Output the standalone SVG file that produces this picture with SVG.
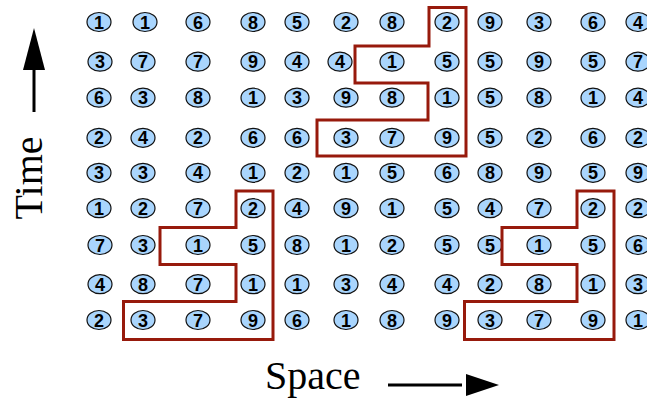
<svg xmlns="http://www.w3.org/2000/svg" width="647" height="407" viewBox="0 0 647 407">
<style>
.c{fill:#a9d5fd;stroke:#111;stroke-width:1.2}
.t{font-family:"Liberation Sans",Arial,sans-serif;font-weight:bold;font-size:18px;text-anchor:middle;fill:#000}
.r{fill:none;stroke:#971a0c;stroke-width:3}
.ax{stroke:#000;stroke-width:3;fill:none}
.lbl{font-family:"Liberation Serif","Times New Roman",serif;font-size:40px;fill:#000}
</style>
<rect width="647" height="407" fill="#fff"/>
<g id="nodes">
<g id="r1"><g id="n1-1" transform="translate(99,22)"><ellipse class="c" rx="12" ry="9.5"/><text class="t" y="6.5">1</text></g><g id="n1-2" transform="translate(145,22)"><ellipse class="c" rx="12" ry="9.5"/><text class="t" y="6.5">1</text></g><g id="n1-3" transform="translate(198,22)"><ellipse class="c" rx="12" ry="9.5"/><text class="t" y="6.5">6</text></g><g id="n1-4" transform="translate(253,22)"><ellipse class="c" rx="12" ry="9.5"/><text class="t" y="6.5">8</text></g><g id="n1-5" transform="translate(297,22)"><ellipse class="c" rx="12" ry="9.5"/><text class="t" y="6.5">5</text></g><g id="n1-6" transform="translate(346,22)"><ellipse class="c" rx="12" ry="9.5"/><text class="t" y="6.5">2</text></g><g id="n1-7" transform="translate(392,22)"><ellipse class="c" rx="12" ry="9.5"/><text class="t" y="6.5">8</text></g><g id="n1-8" transform="translate(447,22)"><ellipse class="c" rx="12" ry="9.5"/><text class="t" y="6.5">2</text></g><g id="n1-9" transform="translate(490,22)"><ellipse class="c" rx="12" ry="9.5"/><text class="t" y="6.5">9</text></g><g id="n1-10" transform="translate(539,22)"><ellipse class="c" rx="12" ry="9.5"/><text class="t" y="6.5">3</text></g><g id="n1-11" transform="translate(593,22)"><ellipse class="c" rx="12" ry="9.5"/><text class="t" y="6.5">6</text></g><g id="n1-12" transform="translate(638,22)"><ellipse class="c" rx="12" ry="9.5"/><text class="t" y="6.5">4</text></g></g>
<g id="r2"><g id="n2-1" transform="translate(100,61.7)"><ellipse class="c" rx="12" ry="9.5"/><text class="t" y="6.5">3</text></g><g id="n2-2" transform="translate(143,61.7)"><ellipse class="c" rx="12" ry="9.5"/><text class="t" y="6.5">7</text></g><g id="n2-3" transform="translate(198,61.7)"><ellipse class="c" rx="12" ry="9.5"/><text class="t" y="6.5">7</text></g><g id="n2-4" transform="translate(253,61.7)"><ellipse class="c" rx="12" ry="9.5"/><text class="t" y="6.5">9</text></g><g id="n2-5" transform="translate(297,61.7)"><ellipse class="c" rx="12" ry="9.5"/><text class="t" y="6.5">4</text></g><g id="n2-6" transform="translate(340,61.7)"><ellipse class="c" rx="12" ry="9.5"/><text class="t" y="6.5">4</text></g><g id="n2-7" transform="translate(392,61.7)"><ellipse class="c" rx="12" ry="9.5"/><text class="t" y="6.5">1</text></g><g id="n2-8" transform="translate(447,61.7)"><ellipse class="c" rx="12" ry="9.5"/><text class="t" y="6.5">5</text></g><g id="n2-9" transform="translate(490,61.7)"><ellipse class="c" rx="12" ry="9.5"/><text class="t" y="6.5">5</text></g><g id="n2-10" transform="translate(539,61.7)"><ellipse class="c" rx="12" ry="9.5"/><text class="t" y="6.5">9</text></g><g id="n2-11" transform="translate(593,61.7)"><ellipse class="c" rx="12" ry="9.5"/><text class="t" y="6.5">5</text></g><g id="n2-12" transform="translate(638,61.7)"><ellipse class="c" rx="12" ry="9.5"/><text class="t" y="6.5">7</text></g></g>
<g id="r3"><g id="n3-1" transform="translate(99,97.7)"><ellipse class="c" rx="12" ry="9.5"/><text class="t" y="6.5">6</text></g><g id="n3-2" transform="translate(143,97.7)"><ellipse class="c" rx="12" ry="9.5"/><text class="t" y="6.5">3</text></g><g id="n3-3" transform="translate(198,97.7)"><ellipse class="c" rx="12" ry="9.5"/><text class="t" y="6.5">8</text></g><g id="n3-4" transform="translate(253,97.7)"><ellipse class="c" rx="12" ry="9.5"/><text class="t" y="6.5">1</text></g><g id="n3-5" transform="translate(297,97.7)"><ellipse class="c" rx="12" ry="9.5"/><text class="t" y="6.5">3</text></g><g id="n3-6" transform="translate(346,97.7)"><ellipse class="c" rx="12" ry="9.5"/><text class="t" y="6.5">9</text></g><g id="n3-7" transform="translate(392,97.7)"><ellipse class="c" rx="12" ry="9.5"/><text class="t" y="6.5">8</text></g><g id="n3-8" transform="translate(447,97.7)"><ellipse class="c" rx="12" ry="9.5"/><text class="t" y="6.5">1</text></g><g id="n3-9" transform="translate(490,97.7)"><ellipse class="c" rx="12" ry="9.5"/><text class="t" y="6.5">5</text></g><g id="n3-10" transform="translate(539,97.7)"><ellipse class="c" rx="12" ry="9.5"/><text class="t" y="6.5">8</text></g><g id="n3-11" transform="translate(593,97.7)"><ellipse class="c" rx="12" ry="9.5"/><text class="t" y="6.5">1</text></g><g id="n3-12" transform="translate(638,97.7)"><ellipse class="c" rx="12" ry="9.5"/><text class="t" y="6.5">4</text></g></g>
<g id="r4"><g id="n4-1" transform="translate(99,137.8)"><ellipse class="c" rx="12" ry="9.5"/><text class="t" y="6.5">2</text></g><g id="n4-2" transform="translate(143,137.8)"><ellipse class="c" rx="12" ry="9.5"/><text class="t" y="6.5">4</text></g><g id="n4-3" transform="translate(198,137.8)"><ellipse class="c" rx="12" ry="9.5"/><text class="t" y="6.5">2</text></g><g id="n4-4" transform="translate(253,137.8)"><ellipse class="c" rx="12" ry="9.5"/><text class="t" y="6.5">6</text></g><g id="n4-5" transform="translate(297,137.8)"><ellipse class="c" rx="12" ry="9.5"/><text class="t" y="6.5">6</text></g><g id="n4-6" transform="translate(346,137.8)"><ellipse class="c" rx="12" ry="9.5"/><text class="t" y="6.5">3</text></g><g id="n4-7" transform="translate(392,137.8)"><ellipse class="c" rx="12" ry="9.5"/><text class="t" y="6.5">7</text></g><g id="n4-8" transform="translate(447,137.8)"><ellipse class="c" rx="12" ry="9.5"/><text class="t" y="6.5">9</text></g><g id="n4-9" transform="translate(490,137.8)"><ellipse class="c" rx="12" ry="9.5"/><text class="t" y="6.5">5</text></g><g id="n4-10" transform="translate(539,137.8)"><ellipse class="c" rx="12" ry="9.5"/><text class="t" y="6.5">2</text></g><g id="n4-11" transform="translate(593,137.8)"><ellipse class="c" rx="12" ry="9.5"/><text class="t" y="6.5">6</text></g><g id="n4-12" transform="translate(638,137.8)"><ellipse class="c" rx="12" ry="9.5"/><text class="t" y="6.5">2</text></g></g>
<g id="r5"><g id="n5-1" transform="translate(99,172.8)"><ellipse class="c" rx="12" ry="9.5"/><text class="t" y="6.5">3</text></g><g id="n5-2" transform="translate(143,172.8)"><ellipse class="c" rx="12" ry="9.5"/><text class="t" y="6.5">3</text></g><g id="n5-3" transform="translate(198,172.8)"><ellipse class="c" rx="12" ry="9.5"/><text class="t" y="6.5">4</text></g><g id="n5-4" transform="translate(253,172.8)"><ellipse class="c" rx="12" ry="9.5"/><text class="t" y="6.5">1</text></g><g id="n5-5" transform="translate(297,172.8)"><ellipse class="c" rx="12" ry="9.5"/><text class="t" y="6.5">2</text></g><g id="n5-6" transform="translate(346,172.8)"><ellipse class="c" rx="12" ry="9.5"/><text class="t" y="6.5">1</text></g><g id="n5-7" transform="translate(392,172.8)"><ellipse class="c" rx="12" ry="9.5"/><text class="t" y="6.5">5</text></g><g id="n5-8" transform="translate(447,172.8)"><ellipse class="c" rx="12" ry="9.5"/><text class="t" y="6.5">6</text></g><g id="n5-9" transform="translate(490,172.8)"><ellipse class="c" rx="12" ry="9.5"/><text class="t" y="6.5">8</text></g><g id="n5-10" transform="translate(539,172.8)"><ellipse class="c" rx="12" ry="9.5"/><text class="t" y="6.5">9</text></g><g id="n5-11" transform="translate(593,172.8)"><ellipse class="c" rx="12" ry="9.5"/><text class="t" y="6.5">5</text></g><g id="n5-12" transform="translate(638,172.8)"><ellipse class="c" rx="12" ry="9.5"/><text class="t" y="6.5">9</text></g></g>
<g id="r6"><g id="n6-1" transform="translate(99,208.2)"><ellipse class="c" rx="12" ry="9.5"/><text class="t" y="6.5">1</text></g><g id="n6-2" transform="translate(143,208.2)"><ellipse class="c" rx="12" ry="9.5"/><text class="t" y="6.5">2</text></g><g id="n6-3" transform="translate(198,208.2)"><ellipse class="c" rx="12" ry="9.5"/><text class="t" y="6.5">7</text></g><g id="n6-4" transform="translate(253,208.2)"><ellipse class="c" rx="12" ry="9.5"/><text class="t" y="6.5">2</text></g><g id="n6-5" transform="translate(297,208.2)"><ellipse class="c" rx="12" ry="9.5"/><text class="t" y="6.5">4</text></g><g id="n6-6" transform="translate(346,208.2)"><ellipse class="c" rx="12" ry="9.5"/><text class="t" y="6.5">9</text></g><g id="n6-7" transform="translate(392,208.2)"><ellipse class="c" rx="12" ry="9.5"/><text class="t" y="6.5">1</text></g><g id="n6-8" transform="translate(447,208.2)"><ellipse class="c" rx="12" ry="9.5"/><text class="t" y="6.5">5</text></g><g id="n6-9" transform="translate(490,208.2)"><ellipse class="c" rx="12" ry="9.5"/><text class="t" y="6.5">4</text></g><g id="n6-10" transform="translate(539,208.2)"><ellipse class="c" rx="12" ry="9.5"/><text class="t" y="6.5">7</text></g><g id="n6-11" transform="translate(593,208.2)"><ellipse class="c" rx="12" ry="9.5"/><text class="t" y="6.5">2</text></g><g id="n6-12" transform="translate(638,208.2)"><ellipse class="c" rx="12" ry="9.5"/><text class="t" y="6.5">2</text></g></g>
<g id="r7"><g id="n7-1" transform="translate(100,245)"><ellipse class="c" rx="12" ry="9.5"/><text class="t" y="6.5">7</text></g><g id="n7-2" transform="translate(143,245)"><ellipse class="c" rx="12" ry="9.5"/><text class="t" y="6.5">3</text></g><g id="n7-3" transform="translate(198,245)"><ellipse class="c" rx="12" ry="9.5"/><text class="t" y="6.5">1</text></g><g id="n7-4" transform="translate(253,245)"><ellipse class="c" rx="12" ry="9.5"/><text class="t" y="6.5">5</text></g><g id="n7-5" transform="translate(297,245)"><ellipse class="c" rx="12" ry="9.5"/><text class="t" y="6.5">8</text></g><g id="n7-6" transform="translate(346,245)"><ellipse class="c" rx="12" ry="9.5"/><text class="t" y="6.5">1</text></g><g id="n7-7" transform="translate(392,245)"><ellipse class="c" rx="12" ry="9.5"/><text class="t" y="6.5">2</text></g><g id="n7-8" transform="translate(447,245)"><ellipse class="c" rx="12" ry="9.5"/><text class="t" y="6.5">5</text></g><g id="n7-9" transform="translate(490,245)"><ellipse class="c" rx="12" ry="9.5"/><text class="t" y="6.5">5</text></g><g id="n7-10" transform="translate(539,245)"><ellipse class="c" rx="12" ry="9.5"/><text class="t" y="6.5">1</text></g><g id="n7-11" transform="translate(593,245)"><ellipse class="c" rx="12" ry="9.5"/><text class="t" y="6.5">5</text></g><g id="n7-12" transform="translate(638,245)"><ellipse class="c" rx="12" ry="9.5"/><text class="t" y="6.5">6</text></g></g>
<g id="r8"><g id="n8-1" transform="translate(100,284.2)"><ellipse class="c" rx="12" ry="9.5"/><text class="t" y="6.5">4</text></g><g id="n8-2" transform="translate(143,284.2)"><ellipse class="c" rx="12" ry="9.5"/><text class="t" y="6.5">8</text></g><g id="n8-3" transform="translate(198,284.2)"><ellipse class="c" rx="12" ry="9.5"/><text class="t" y="6.5">7</text></g><g id="n8-4" transform="translate(253,284.2)"><ellipse class="c" rx="12" ry="9.5"/><text class="t" y="6.5">1</text></g><g id="n8-5" transform="translate(297,284.2)"><ellipse class="c" rx="12" ry="9.5"/><text class="t" y="6.5">1</text></g><g id="n8-6" transform="translate(346,284.2)"><ellipse class="c" rx="12" ry="9.5"/><text class="t" y="6.5">3</text></g><g id="n8-7" transform="translate(392,284.2)"><ellipse class="c" rx="12" ry="9.5"/><text class="t" y="6.5">4</text></g><g id="n8-8" transform="translate(447,284.2)"><ellipse class="c" rx="12" ry="9.5"/><text class="t" y="6.5">4</text></g><g id="n8-9" transform="translate(490,284.2)"><ellipse class="c" rx="12" ry="9.5"/><text class="t" y="6.5">2</text></g><g id="n8-10" transform="translate(539,284.2)"><ellipse class="c" rx="12" ry="9.5"/><text class="t" y="6.5">8</text></g><g id="n8-11" transform="translate(593,284.2)"><ellipse class="c" rx="12" ry="9.5"/><text class="t" y="6.5">1</text></g><g id="n8-12" transform="translate(638,284.2)"><ellipse class="c" rx="12" ry="9.5"/><text class="t" y="6.5">3</text></g></g>
<g id="r9"><g id="n9-1" transform="translate(99,320)"><ellipse class="c" rx="12" ry="9.5"/><text class="t" y="6.5">2</text></g><g id="n9-2" transform="translate(143,320)"><ellipse class="c" rx="12" ry="9.5"/><text class="t" y="6.5">3</text></g><g id="n9-3" transform="translate(198,320)"><ellipse class="c" rx="12" ry="9.5"/><text class="t" y="6.5">7</text></g><g id="n9-4" transform="translate(253,320)"><ellipse class="c" rx="12" ry="9.5"/><text class="t" y="6.5">9</text></g><g id="n9-5" transform="translate(297,320)"><ellipse class="c" rx="12" ry="9.5"/><text class="t" y="6.5">6</text></g><g id="n9-6" transform="translate(346,320)"><ellipse class="c" rx="12" ry="9.5"/><text class="t" y="6.5">1</text></g><g id="n9-7" transform="translate(392,320)"><ellipse class="c" rx="12" ry="9.5"/><text class="t" y="6.5">8</text></g><g id="n9-8" transform="translate(447,320)"><ellipse class="c" rx="12" ry="9.5"/><text class="t" y="6.5">9</text></g><g id="n9-9" transform="translate(490,320)"><ellipse class="c" rx="12" ry="9.5"/><text class="t" y="6.5">3</text></g><g id="n9-10" transform="translate(539,320)"><ellipse class="c" rx="12" ry="9.5"/><text class="t" y="6.5">7</text></g><g id="n9-11" transform="translate(593,320)"><ellipse class="c" rx="12" ry="9.5"/><text class="t" y="6.5">9</text></g><g id="n9-12" transform="translate(638,320)"><ellipse class="c" rx="12" ry="9.5"/><text class="t" y="6.5">1</text></g></g>
</g>
<g id="regions">
<path class="r" d="M429,7.5 H466 V156 H317 V120 H428 V83 H355 V46 H429 Z"/>
<path class="r" d="M236,191 H273 V339.5 H123.5 V301.5 H236 V264.5 H160 V227.5 H236 Z"/>
<path class="r" d="M577,191 H614 V339.5 H464.5 V301.5 H577 V264.5 H502 V227.5 H577 Z"/>
</g>
<g id="connectors">
<line class="ax" x1="34" y1="112" x2="34" y2="66"/>
<polygon points="34,28 23,70 45,70" fill="#000"/>
<line class="ax" x1="388" y1="385" x2="462" y2="385"/>
<polygon points="499,385 466,374 466,396" fill="#000"/>
</g>
<g id="labels">
<text class="lbl" transform="translate(42,178) rotate(-90)" text-anchor="middle">Time</text>
<text class="lbl" x="265" y="389">Space</text>
</g>
</svg>
